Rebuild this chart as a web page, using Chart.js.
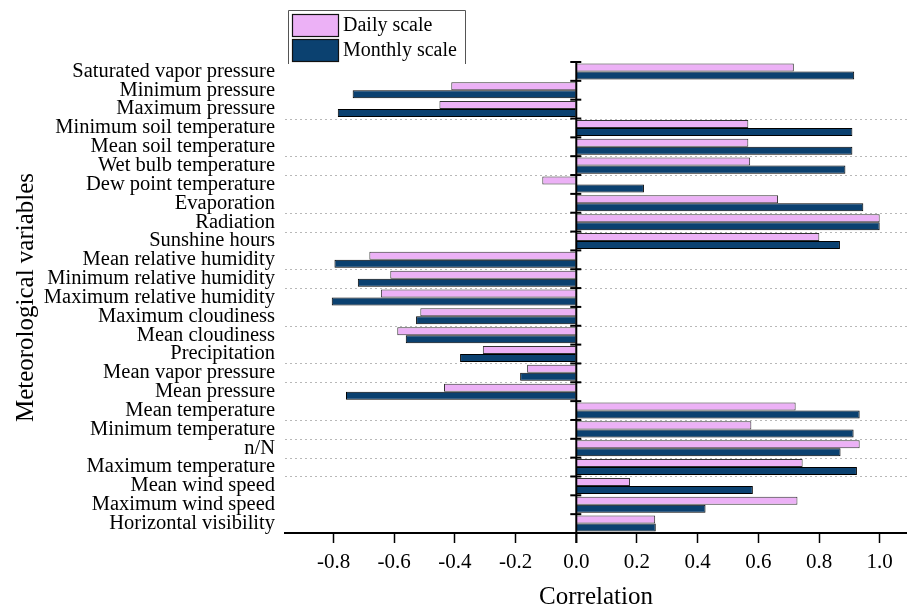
<!DOCTYPE html>
<html>
<head>
<meta charset="utf-8">
<script src="https://cdn.jsdelivr.net/npm/chart.js@4.4.1/dist/chart.umd.min.js"></script>
<style>
  html, body { margin: 0; padding: 0; background: #ffffff; }
  #wrap { width: 907px; height: 610px; position: relative; }
</style>
</head>
<body>
<div id="wrap"><canvas id="c" width="907" height="610"></canvas></div>
<script>
const categories = [
  "Saturated vapor pressure", "Minimum pressure", "Maximum pressure",
  "Minimum soil temperature", "Mean soil temperature", "Wet bulb temperature",
  "Dew point temperature", "Evaporation", "Radiation", "Sunshine hours",
  "Mean relative humidity", "Minimum relative humidity", "Maximum relative humidity",
  "Maximum cloudiness", "Mean cloudiness", "Precipitation", "Mean vapor pressure",
  "Mean pressure", "Mean temperature", "Minimum temperature", "n/N",
  "Maximum temperature", "Mean wind speed", "Maximum wind speed", "Horizontal visibility"
];
const dailyScale = [
  0.717, -0.412, -0.451,
  0.567, 0.567, 0.573,
  -0.112, 0.665, 1.000, 0.801,
  -0.682, -0.613, -0.644,
  -0.514, -0.590, -0.308, -0.162,
  -0.436, 0.723, 0.577, 0.934,
  0.746, 0.177, 0.729, 0.260
];
const monthlyScale = [
  0.916, -0.737, -0.786,
  0.910, 0.910, 0.887,
  0.223, 0.946, 1.000, 0.869,
  -0.797, -0.720, -0.806,
  -0.528, -0.562, -0.383, -0.185,
  -0.759, 0.934, 0.914, 0.871,
  0.925, 0.582, 0.426, 0.262
];
const xTickValues = [-0.8, -0.6, -0.4, -0.2, 0.0, 0.2, 0.4, 0.6, 0.8, 1.0];
const seriesNames = ["Daily scale", "Monthly scale"];
const dottedBoundaries = [3, 5, 6, 8, 9, 11, 12, 14, 16, 17, 19, 20, 21, 22];

const PINK = '#ecb1f6';
const NAVY = '#0b4170';
const SERIF = '"Liberation Serif", "Times New Roman", serif';

const decorPlugin = {
  id: 'decor',
  beforeDatasetsDraw(chart) {
    const {ctx, chartArea} = chart;
    const y = chart.scales.y;
    ctx.save();
    ctx.strokeStyle = '#b8b8b8';
    ctx.lineWidth = 1;
    ctx.setLineDash([2, 3]);
    dottedBoundaries.forEach(b => {
      const py = Math.round(y.getPixelForValue(b - 0.5)) + 0.5;
      ctx.beginPath();
      ctx.moveTo(chartArea.left, py);
      ctx.lineTo(chartArea.right, py);
      ctx.stroke();
    });
    ctx.restore();
  },
  afterDatasetsDraw(chart) {
    const {ctx, chartArea} = chart;
    const x = chart.scales.x;
    const y = chart.scales.y;
    const x0 = x.getPixelForValue(0);
    ctx.save();
    ctx.strokeStyle = '#000';
    ctx.lineWidth = 2;
    ctx.beginPath();
    ctx.moveTo(x0, chartArea.top);
    ctx.lineTo(x0, chartArea.bottom + 10);
    ctx.stroke();
    for (let b = 0; b < categories.length; b++) {
      const py = y.getPixelForValue(b - 0.5);
      ctx.beginPath();
      ctx.moveTo(x0 - 6, py);
      ctx.lineTo(x0 + 5, py);
      ctx.stroke();
    }
    ctx.restore();
  },
  afterDraw(chart) {
    const {ctx, chartArea} = chart;
    const left = chartArea.left + 3;
    const top = 10;
    const right = left + 177;
    const bottom = chartArea.top + 2;
    ctx.save();
    ctx.strokeStyle = '#555';
    ctx.lineWidth = 1;
    ctx.beginPath();
    ctx.moveTo(left + 0.5, bottom);
    ctx.lineTo(left + 0.5, top + 0.5);
    ctx.lineTo(right + 0.5, top + 0.5);
    ctx.lineTo(right + 0.5, bottom);
    ctx.stroke();
    const sw = 46, sh = 22;
    const colors = [PINK, NAVY];
    ctx.font = '20px ' + SERIF;
    ctx.textBaseline = 'middle';
    ctx.textAlign = 'left';
    seriesNames.forEach((name, i) => {
      const sx = left + 4, sy = top + 4 + i * 25;
      ctx.fillStyle = colors[i];
      ctx.fillRect(sx, sy, sw, sh);
      ctx.strokeStyle = '#111';
      ctx.lineWidth = 1.2;
      ctx.strokeRect(sx + 0.5, sy + 0.5, sw, sh);
      ctx.fillStyle = '#000';
      ctx.fillText(name, sx + sw + 5, sy + sh / 2 + 1);
    });
    ctx.restore();
  }
};

new Chart(document.getElementById('c'), {
  type: 'bar',
  data: {
    labels: categories,
    datasets: [
      { label: seriesNames[0], data: dailyScale, backgroundColor: PINK, borderColor: '#333', borderWidth: 1 },
      { label: seriesNames[1], data: monthlyScale, backgroundColor: NAVY, borderColor: '#000', borderWidth: 1 }
    ]
  },
  options: {
    indexAxis: 'y',
    responsive: false,
    animation: false,
    devicePixelRatio: 1,
    layout: { padding: { top: 62, left: 0, right: 0, bottom: 0 } },
    datasets: { bar: { categoryPercentage: 0.85, barPercentage: 1.0 } },
    plugins: {
      legend: { display: false },
      tooltip: { enabled: false }
    },
    scales: {
      x: {
        type: 'linear',
        position: 'bottom',
        min: -0.96,
        max: 1.09,
        afterBuildTicks(scale) { scale.ticks = xTickValues.map(v => ({ value: v })); },
        afterFit(scale) { scale.height = 77; },
        ticks: {
          color: '#000',
          font: { family: SERIF, size: 21 },
          padding: 7,
          callback: v => Number(v).toFixed(1)
        },
        grid: {
          drawOnChartArea: false,
          drawTicks: true,
          tickLength: 10,
          tickColor: '#000',
          tickWidth: 1.5
        },
        border: { display: true, color: '#000', width: 2 },
        title: {
          display: true,
          text: 'Correlation',
          color: '#000',
          font: { family: SERIF, size: 25, lineHeight: 1.0 },
          padding: { top: 0, bottom: 0 }
        }
      },
      y: {
        type: 'category',
        position: 'left',
        afterFit(scale) { scale.width = 285; },
        ticks: {
          color: '#000',
          autoSkip: false,
          font: { family: SERIF, size: 20.5 },
          padding: 10
        },
        grid: { display: false, drawTicks: false },
        border: { display: false },
        title: {
          display: true,
          text: 'Meteorological variables',
          color: '#000',
          font: { family: SERIF, size: 25 },
          padding: { top: 11, bottom: 0 }
        }
      }
    }
  },
  plugins: [decorPlugin]
});
</script>
</body>
</html>
